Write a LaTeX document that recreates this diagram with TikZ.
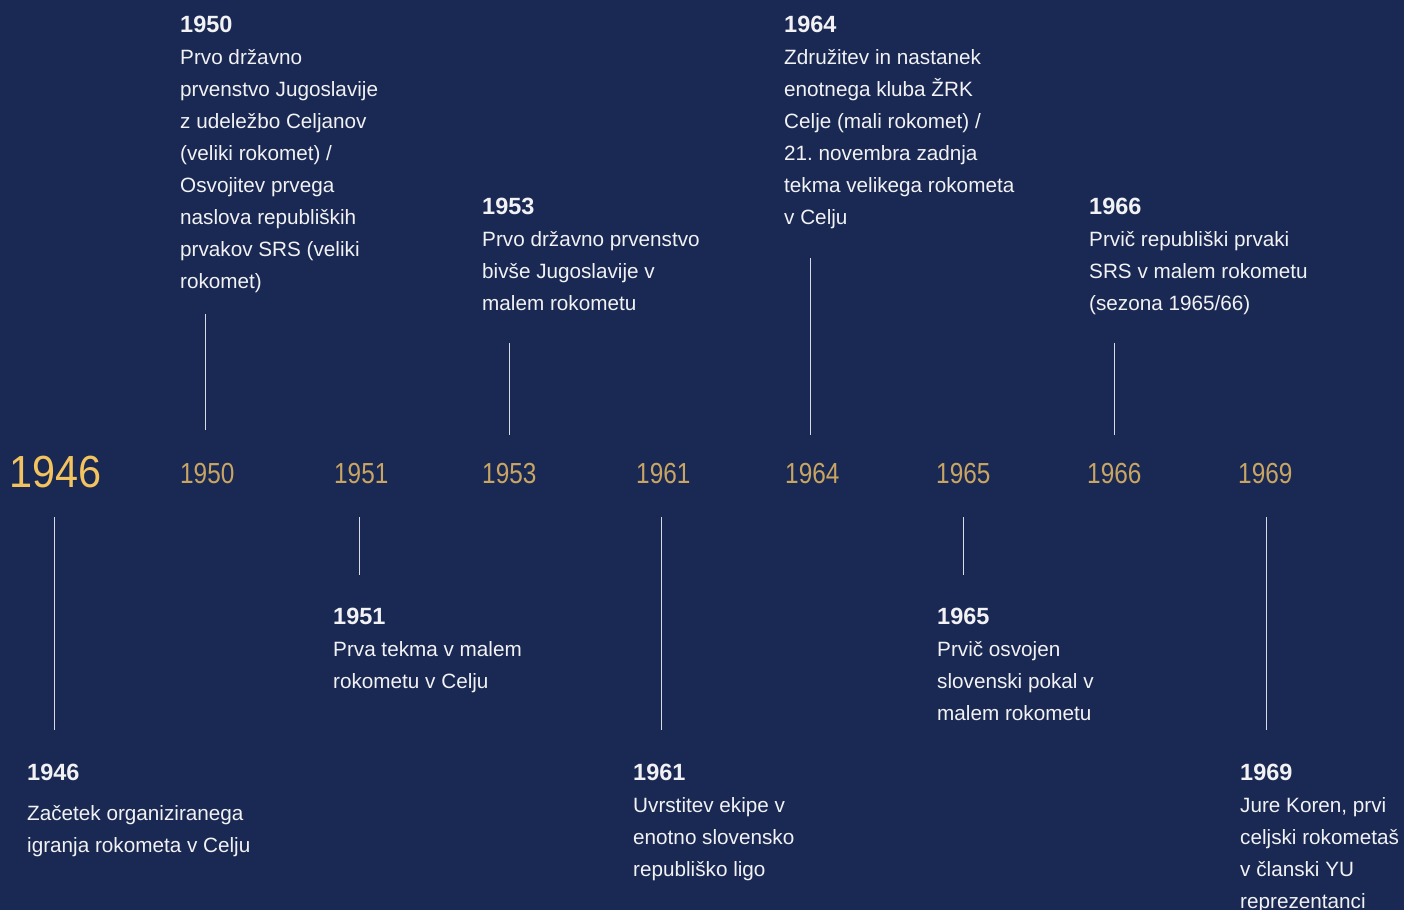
\documentclass[tikz,border=0pt]{standalone}
\usepackage{fontspec}
\setmainfont{Liberation Sans}
\frenchspacing
\definecolor{bg}{HTML}{1A2953}
\definecolor{goldA}{HTML}{F2C35E}
\definecolor{goldB}{HTML}{C9A563}
\definecolor{txt}{HTML}{F2F2F4}
\definecolor{tick}{HTML}{D8DBE3}
\tikzset{
  yearbig/.style={anchor=base west, inner sep=0, text=goldA, font=\fontsize{45}{50}\selectfont},
  yearlbl/.style={anchor=base west, inner sep=0, text=goldB, font=\fontsize{29}{32}\selectfont},
  event/.style={anchor=base west, inner sep=0, align=left, text=txt, font=\fontsize{20.7}{32}\selectfont\frenchspacing},
  tickline/.style={draw=tick, line width=1pt}
}
\newcommand{\hd}[1]{{\bfseries\fontsize{23.5}{32}\selectfont #1}}
\begin{document}
\begin{tikzpicture}[x=1pt,y=-1pt]
\useasboundingbox (0,0) rectangle (1404,910);
\fill[bg] (0,0) rectangle (1404,910);

% year labels on the axis
\node[yearbig] (y1946) at (9,487) {\scalebox{0.92}[1]{1946}};
\node[yearlbl] (y1950) at (180,483) {\scalebox{0.84}[1]{1950}};
\node[yearlbl] (y1951) at (334,483) {\scalebox{0.84}[1]{1951}};
\node[yearlbl] (y1953) at (482,483) {\scalebox{0.84}[1]{1953}};
\node[yearlbl] (y1961) at (636,483) {\scalebox{0.84}[1]{1961}};
\node[yearlbl] (y1964) at (785,483) {\scalebox{0.84}[1]{1964}};
\node[yearlbl] (y1965) at (936,483) {\scalebox{0.84}[1]{1965}};
\node[yearlbl] (y1966) at (1087,483) {\scalebox{0.84}[1]{1966}};
\node[yearlbl] (y1969) at (1238,483) {\scalebox{0.84}[1]{1969}};

% events above (anchored at the baseline of their last line)
\node[event] (e1950) at (180,288) {\hd{1950}\\Prvo državno\\prvenstvo Jugoslavije\\z udeležbo Celjanov\\(veliki rokomet) /\\Osvojitev prvega\\naslova republiških\\prvakov SRS (veliki\\rokomet)};
\node[event] (e1953) at (482,310) {\hd{1953}\\Prvo državno prvenstvo\\bivše Jugoslavije v\\malem rokometu};
\node[event] (e1964) at (784,224) {\hd{1964}\\Združitev in nastanek\\enotnega kluba ŽRK\\Celje (mali rokomet) /\\21. novembra zadnja\\tekma velikega rokometa\\v Celju};
\node[event] (e1966) at (1089,310) {\hd{1966}\\Prvič republiški prvaki\\SRS v malem rokometu\\(sezona 1965/66)};

% events below
\node[event] (e1946) at (27,852) {\hd{1946}\\[8pt]Začetek organiziranega\\igranja rokometa v Celju};
\node[event] (e1951) at (333,688) {\hd{1951}\\Prva tekma v malem\\rokometu v Celju};
\node[event] (e1961) at (633,876) {\hd{1961}\\Uvrstitev ekipe v\\enotno slovensko\\republiško ligo};
\node[event] (e1965) at (937,720) {\hd{1965}\\Prvič osvojen\\slovenski pokal v\\malem rokometu};
\node[event] (e1969) at (1240,908) {\hd{1969}\\Jure Koren, prvi\\celjski rokometaš\\v članski YU\\reprezentanci};

% tick line end points
\coordinate (a1950) at (205,314); \coordinate (b1950) at (205,430);
\coordinate (a1953) at (509,343); \coordinate (b1953) at (509,435);
\coordinate (a1964) at (810,258); \coordinate (b1964) at (810,435);
\coordinate (a1966) at (1114,343); \coordinate (b1966) at (1114,435);
\coordinate (a1946) at (54,517); \coordinate (b1946) at (54,730);
\coordinate (a1951) at (359,517); \coordinate (b1951) at (359,575);
\coordinate (a1961) at (661,517); \coordinate (b1961) at (661,730);
\coordinate (a1965) at (963,517); \coordinate (b1965) at (963,575);
\coordinate (a1969) at (1266,517); \coordinate (b1969) at (1266,730);

\foreach \y in {1950,1953,1964,1966,1946,1951,1961,1965,1969}
  \draw[tickline] (a\y) -- (b\y);
\end{tikzpicture}
\end{document}
